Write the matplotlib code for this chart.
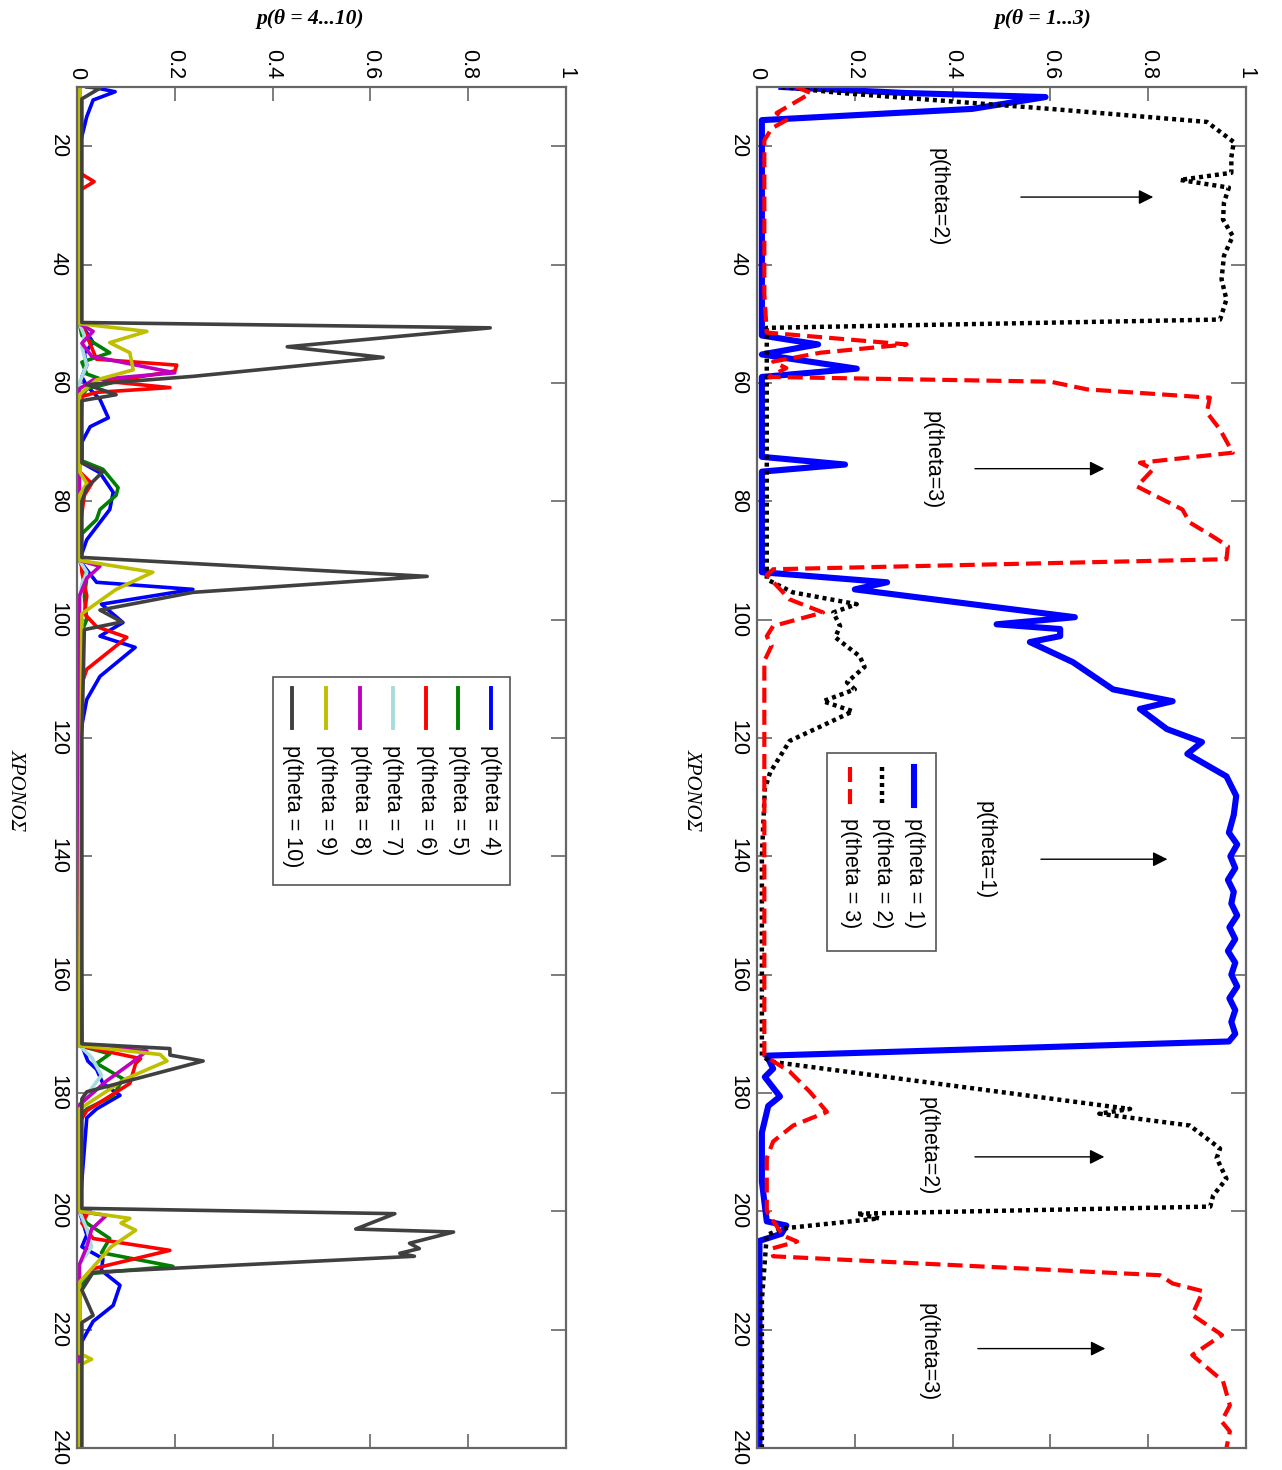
import matplotlib
matplotlib.use('Agg')
import matplotlib.pyplot as plt
from matplotlib.patches import Rectangle

# time ticks and probability ticks
time_ticks = [20, 40, 60, 80, 100, 120, 140, 160, 180, 200, 220, 240]
prob_ticks = [0, 0.2, 0.4, 0.6, 0.8, 1]
prob_labels = ['0', '0.2', '0.4', '0.6', '0.8', '1']

# ---- panel p(theta = 1...3) ----
t1 = [10, 11, 11.7, 13.7, 15.6, 20, 30, 40, 50, 52, 53.5, 55.2, 57.6, 59, 65, 72.5, 73.8, 75, 85, 92,
      93.7, 94.9, 99.6, 100.8, 101.6, 102.8, 103.8, 107.2, 111.8, 113.8, 115.1, 118.5, 120.7, 122.7,
      126.5, 129.8, 133, 136, 138, 140, 142, 144, 146, 148, 150, 152, 154, 156, 158, 160, 162, 164,
      166, 168, 170, 171.3, 173.7, 175.9, 177.3, 180.6, 182.2, 186.7, 195, 201.7, 202.4, 203.8, 205,
      215, 240]
p1 = [0.05, 0.3, 0.59, 0.44, 0.01, 0.01, 0.01, 0.01, 0.01, 0.01, 0.125, 0.01, 0.204, 0.01, 0.01, 0.01,
      0.18, 0.01, 0.01, 0.01, 0.266, 0.2, 0.65, 0.49, 0.62, 0.62, 0.558, 0.646, 0.728, 0.85, 0.783,
      0.838, 0.91, 0.88, 0.96, 0.98, 0.975, 0.965, 0.982, 0.968, 0.978, 0.963, 0.975, 0.97, 0.982, 0.966,
      0.978, 0.963, 0.978, 0.97, 0.982, 0.966, 0.978, 0.97, 0.978, 0.965, 0.02, 0.033, 0.016, 0.047, 0.023,
      0.01, 0.01, 0.02, 0.06, 0.05, 0.005, 0.005, 0.005]

t2 = [10, 11, 13.7, 15.9, 19.3, 21.9, 24.5, 25.7, 27, 29.5, 32.4, 35.2, 38.5, 42.5, 45.9, 49.3, 50.7,
      60, 75, 92, 93.2, 95.4, 97.4, 98.8, 101.1, 103, 106.2, 108, 110.6, 111.8, 113.8, 115.5, 117.3,
      120.5, 125.8, 128.6, 140, 160, 173.7, 174.7, 182.2, 182.7, 183.5, 185.5, 189.4, 191, 194.5,
      197.3, 199.2, 200.4, 201.2, 202.9, 204, 215, 240]
p2 = [0.05, 0.17, 0.6, 0.92, 0.975, 0.97, 0.97, 0.865, 0.965, 0.955, 0.953, 0.973, 0.955, 0.95, 0.96,
      0.947, 0.02, 0.02, 0.02, 0.02, 0.02, 0.073, 0.204, 0.156, 0.17, 0.16, 0.21, 0.22, 0.184, 0.2,
      0.135, 0.196, 0.15, 0.067, 0.027, 0.016, 0.01, 0.01, 0.01, 0.027, 0.715, 0.763, 0.70, 0.885,
      0.947, 0.94, 0.96, 0.933, 0.927, 0.204, 0.25, 0.053, 0.02, 0.01, 0.01]

t3 = [10, 11, 12, 14.4, 15.6, 17, 19, 30, 45, 51.5, 53.5, 54.9, 56.4, 57.5, 59, 59.8, 61.1, 62.5, 65,
      67.9, 71.8, 73.5, 74.6, 77.5, 81.4, 83.6, 86, 87.6, 89.8, 91.5, 92.5, 96.6, 98.8, 101.1, 102.8,
      104.4, 107, 120, 150, 173.7, 176.4, 179.8, 183.2, 185.5, 188.2, 191, 200, 204.1, 205.1, 206.3,
      207.6, 210.8, 212.2, 213.5, 217.5, 220.9, 224.3, 228.7, 232.8, 235.5, 237.2, 240]
p3 = [0.08, 0.11, 0.09, 0.04, 0.06, 0.03, 0.015, 0.015, 0.015, 0.02, 0.306, 0.13, 0.033, 0.06, 0.025,
      0.6, 0.675, 0.926, 0.92, 0.947, 0.973, 0.783, 0.81, 0.777, 0.87, 0.885, 0.933, 0.963, 0.96,
      0.033, 0.02, 0.067, 0.135, 0.033, 0.02, 0.03, 0.015, 0.015, 0.015, 0.015, 0.067, 0.108, 0.143,
      0.074, 0.033, 0.02, 0.02, 0.053, 0.082, 0.03, 0.033, 0.824, 0.85, 0.912, 0.89, 0.951, 0.89,
      0.953, 0.967, 0.95, 0.967, 0.96]

# ---- panel p(theta = 4...10) ----
t4 = [10, 10.8, 12.2, 15, 20, 50, 51.5, 53.2, 55, 57, 59, 60.5, 62.8, 65.9, 67.4, 70, 73.5, 75.2, 78.5,
      81.4, 86.5, 90, 93.7, 94.9, 97.4, 100.5, 102.8, 104.7, 109.6, 113.5, 120, 172, 174.6, 176,
      178.4, 180.4, 182.7, 184.2, 200, 204, 206, 208, 210, 212.5, 215.9, 218.6, 222, 240]
p4 = [0.03, 0.078, 0.033, 0.02, 0.005, 0.005, 0.02, 0.033, 0.015, 0.02, 0.01, 0.02, 0.047, 0.064,
      0.027, 0.01, 0.01, 0.047, 0.074, 0.067, 0.02, 0.005, 0.04, 0.237, 0.05, 0.094, 0.047, 0.119,
      0.047, 0.02, 0.005, 0.01, 0.022, 0.04, 0.053, 0.088, 0.04, 0.02, 0.005, 0.02, 0.01, 0.053, 0.05,
      0.088, 0.074, 0.033, 0.01, 0.005]

t5 = [10, 50, 52, 54.9, 56.5, 58.5, 60, 61, 63, 73, 74.6, 77.7, 79, 81.4, 83.1, 85.5, 90, 93, 96, 100,
      103, 172, 173.4, 175, 177.6, 180.5, 182.7, 184, 200, 202, 204.6, 207, 209.3, 210.5, 213, 240]
p5 = [0.005, 0.005, 0.01, 0.067, 0.01, 0.02, 0.07, 0.02, 0.005, 0.005, 0.053, 0.084, 0.08, 0.047,
      0.04, 0.01, 0.005, 0.02, 0.015, 0.02, 0.005, 0.005, 0.067, 0.04, 0.094, 0.074, 0.02, 0.005,
      0.005, 0.02, 0.067, 0.05, 0.196, 0.03, 0.005, 0.005]

t6 = [10, 24.5, 26, 27.5, 50, 50.5, 56, 57, 58, 59.8, 60.8, 61.6, 62.3, 75, 77, 79, 85, 92, 96, 99,
      101.2, 103, 108.4, 112, 172, 174.2, 175, 178.4, 183, 185, 200, 200.6, 202, 204.6, 206.6, 209.7,
      212, 240]
p6 = [0.005, 0.005, 0.035, 0.005, 0.005, 0.012, 0.04, 0.204, 0.2, 0.067, 0.19, 0.04, 0.01, 0.005,
      0.03, 0.015, 0.005, 0.01, 0.02, 0.015, 0.04, 0.102, 0.02, 0.005, 0.005, 0.13, 0.12, 0.108, 0.02,
      0.005, 0.005, 0.02, 0.01, 0.033, 0.19, 0.033, 0.005, 0.005]

t7 = [10, 50, 52, 54, 57, 60, 90, 92, 94, 97, 172, 174, 177, 182, 200, 203, 206, 209, 240]
p7 = [0.005, 0.005, 0.015, 0.01, 0.02, 0.005, 0.005, 0.02, 0.01, 0.005, 0.005, 0.03, 0.05, 0.005,
      0.005, 0.02, 0.03, 0.005, 0.005]

t8 = [10, 50, 51.3, 53.3, 55.5, 58.3, 59.5, 61, 90, 91, 93, 96, 172, 172.9, 175, 178, 182, 200, 200.7,
      203, 206, 209, 240]
p8 = [0.005, 0.005, 0.033, 0.01, 0.03, 0.2, 0.033, 0.005, 0.005, 0.047, 0.02, 0.005, 0.005, 0.143,
      0.11, 0.06, 0.005, 0.005, 0.06, 0.03, 0.02, 0.005, 0.005]

t9 = [10, 50, 51.3, 53.2, 54.9, 57.8, 59.5, 62, 75, 77, 79, 90, 92, 94.9, 99, 172, 173.5, 174.6, 177.6,
      182.7, 200, 201.2, 202, 203.2, 206, 209.7, 212, 224, 225, 226, 240]
p9 = [0.005, 0.005, 0.143, 0.067, 0.108, 0.115, 0.04, 0.005, 0.005, 0.02, 0.005, 0.005, 0.155, 0.08,
      0.01, 0.005, 0.17, 0.184, 0.1, 0.005, 0.005, 0.108, 0.09, 0.12, 0.07, 0.03, 0.005, 0.005, 0.03,
      0.005, 0.005]

t10 = [10, 10.2, 12, 30, 49.8, 50.7, 53.9, 55.7, 58.9, 60.3, 62, 63, 73.5, 75, 77.7, 80, 89.5, 92.7,
       95.4, 98.4, 100.4, 101.7, 120, 171.7, 172.5, 173.6, 174.6, 179.8, 181, 199.5, 200.4, 203, 203.5,
       205.4, 206.3, 207.1, 207.6, 210.3, 213.3, 217.6, 218.8, 240]
p10 = [0.02, 0.047, 0.01, 0.01, 0.01, 0.845, 0.43, 0.626, 0.237, 0.02, 0.08, 0.01, 0.01, 0.053, 0.02,
       0.01, 0.01, 0.716, 0.237, 0.047, 0.092, 0.015, 0.01, 0.01, 0.19, 0.19, 0.258, 0.02, 0.01, 0.01,
       0.65, 0.57, 0.77, 0.68, 0.70, 0.66, 0.69, 0.033, 0.01, 0.033, 0.01, 0.01]

labels_a = ['p(theta = 1)', 'p(theta = 2)', 'p(theta = 3)']
labels_b = ['p(theta = 4)', 'p(theta = 5)', 'p(theta = 6)', 'p(theta = 7)',
            'p(theta = 8)', 'p(theta = 9)', 'p(theta = 10)']
colors_b = ['#0000ff', '#007f00', '#ff0000', '#a8dcdc', '#bf00bf', '#bfbf00', '#404040']

SANS = 'Liberation Sans'
SERIF = 'Liberation Serif'
W, H = 1282, 1470


def setup_axes(ax):
    # rotated layout: time runs downwards, probability to the right
    ax.set_xlim(0, 1)
    ax.set_ylim(240, 10)
    ax.set_xticks(prob_ticks)
    ax.set_xticklabels(prob_labels)
    ax.set_yticks(time_ticks)
    ax.set_yticklabels([str(t) for t in time_ticks])
    ax.tick_params(axis='x', top=True, bottom=True, labeltop=True, labelbottom=False,
                   direction='in', length=10, width=1.2, color='#666666', pad=6, labelsize=15.5)
    ax.tick_params(axis='y', left=True, right=True, direction='in', length=11, width=1.2,
                   color='#666666', pad=6, labelsize=15.5)
    for lbl in ax.get_xticklabels():
        lbl.set_rotation(-90)
        lbl.set_ha('center')
        lbl.set_va('bottom')
        lbl.set_fontfamily(SANS)
    for lbl in ax.get_yticklabels():
        lbl.set_rotation(-90)
        lbl.set_ha('right')
        lbl.set_va('center')
        lbl.set_fontfamily(SANS)
    for s in ax.spines.values():
        s.set_color('#666666')
        s.set_linewidth(1.6)


def ax_frac(px, py, x0):
    # pixel position of the reference picture -> axes fraction
    return (px - x0) / 489.0, (1448 - py) / 1361.0


fig = plt.figure(figsize=(W / 100, H / 100), dpi=100)
axR = fig.add_axes([757 / W, 22 / H, 489 / W, 1361 / H])
axL = fig.add_axes([77 / W, 22 / H, 489 / W, 1361 / H])

# right panel
axR.plot(p1, t1, color='#0000ff', lw=4.4, solid_joinstyle='round')
axR.plot(p2, t2, color='black', lw=3.2, ls=(0, (0.9, 0.9)))
axR.plot(p3, t3, color='#ff0000', lw=3.0, ls=(0, (3.6, 1.7)))
setup_axes(axR)

# annotations with arrows
notes = [('p(theta=2)', 0.37, 28.6, 0.534, 0.816, 28.6),
         ('p(theta=3)', 0.358, 73.0, 0.44, 0.716, 74.5),
         ('p(theta=1)', 0.466, 139.0, 0.575, 0.845, 140.5),
         ('p(theta=2)', 0.35, 189.0, 0.44, 0.716, 190.8),
         ('p(theta=3)', 0.35, 223.8, 0.446, 0.718, 223.2)]
for txt, xv, yv, a0, a1, ay in notes:
    axR.text(xv, yv, txt, rotation=-90, ha='center', va='center', fontsize=15.5, family=SANS)
    axR.annotate('', xy=(a1, ay), xytext=(a0, ay),
                 arrowprops=dict(arrowstyle='-|>', color='black', lw=1.0, mutation_scale=22))

# rotated legend, right panel
bx0, by0 = ax_frac(827, 951, 757)
bx1, by1 = ax_frac(936, 753, 757)
axR.add_patch(Rectangle((bx0, by0), bx1 - bx0, by1 - by0, transform=axR.transAxes,
                        facecolor='white', edgecolor='#555555', lw=1.2, zorder=5))
styles_a = [dict(color='#0000ff', lw=4.4), dict(color='black', lw=3.2, ls=(0, (0.9, 0.9))),
            dict(color='#ff0000', lw=3.0, ls=(0, (3.6, 1.7)))]
for px, lab, st in zip([914, 882, 850], labels_a, styles_a):
    xf, ya = ax_frac(px, 767, 757)
    _, yb = ax_frac(px, 805, 757)
    axR.plot([xf, xf], [ya, yb], transform=axR.transAxes, zorder=6, clip_on=False, **st)
    _, yt = ax_frac(px, 818, 757)
    axR.text(xf, yt, lab, transform=axR.transAxes, rotation=-90, ha='center', va='top',
             fontsize=15.5, family=SANS, zorder=6)

# left panel
series_b = [(t4, p4), (t5, p5), (t6, p6), (t7, p7), (t8, p8), (t9, p9), (t10, p10)]
for (tt, pp), c in zip(series_b, colors_b):
    axL.plot(pp, tt, color=c, lw=2.6)
setup_axes(axL)

bx0, by0 = ax_frac(273, 885, 77)
bx1, by1 = ax_frac(510, 677, 77)
axL.add_patch(Rectangle((bx0, by0), bx1 - bx0, by1 - by0, transform=axL.transAxes,
                        facecolor='white', edgecolor='#555555', lw=1.2, zorder=5))
for px, lab, c in zip([491, 458, 426, 393, 360, 326, 292], labels_b, colors_b):
    xf, ya = ax_frac(px, 688, 77)
    _, yb = ax_frac(px, 728, 77)
    axL.plot([xf, xf], [ya, yb], transform=axL.transAxes, color=c, lw=2.8, zorder=6,
             clip_on=False)
    _, yt = ax_frac(px, 745, 77)
    axL.text(xf, yt, lab, transform=axL.transAxes, rotation=-90, ha='center', va='top',
             fontsize=15.5, family=SANS, zorder=6)

# axis titles (the y labels of the original, now on top) and time labels
fig.text(1043 / W, 1 - 19 / H, 'p(θ = 1...3)', ha='center', va='center', family=SERIF,
         fontweight='bold', fontstyle='italic', fontsize=15.5)
fig.text(310 / W, 1 - 19 / H, 'p(θ = 4...10)', ha='center', va='center', family=SERIF,
         fontweight='bold', fontstyle='italic', fontsize=15.5)
fig.text(692 / W, 1 - 790 / H, 'ΧΡΟΝΟΣ', rotation=-90, ha='center', va='center', family=SERIF,
         fontstyle='italic', fontsize=15)
fig.text(16 / W, 1 - 790 / H, 'ΧΡΟΝΟΣ', rotation=-90, ha='center', va='center', family=SERIF,
         fontstyle='italic', fontsize=15)

fig.savefig('out.png', dpi=100)
